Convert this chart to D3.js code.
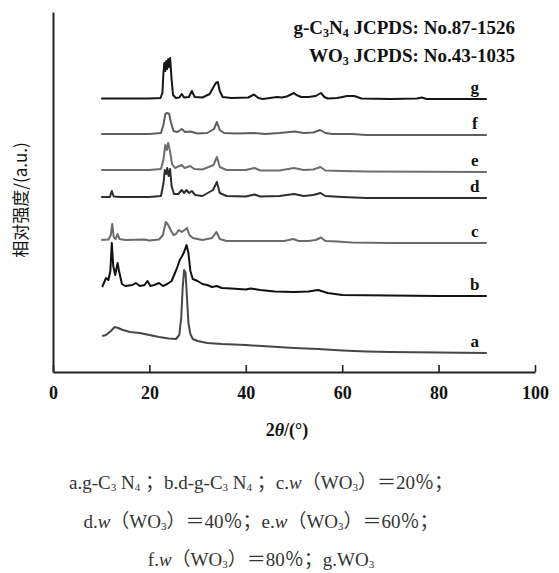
<!DOCTYPE html>
<html>
<head>
<meta charset="utf-8">
<script src="https://cdn.jsdelivr.net/npm/d3@7"></script>
<style>
  body { margin: 0; background: #fff; }
  text { font-family: "Liberation Serif", "DejaVu Serif", serif; }
</style>
</head>
<body>
<div id="chart"></div>
<script>
// XRD patterns, [2theta, intensity above own baseline]
const seriesNames = ['a', 'b', 'c', 'd', 'e', 'f', 'g'];
const seriesOffsets = [19, 76, 129, 174, 200, 237, 273];
const seriesColors = ['#464646', '#111111', '#6a6a6a', '#2e2e2e', '#6e6e6e', '#5e5e5e', '#161616'];

const patternA = [[10.2,17],[11,18],[12,22],[12.8,26],[13.5,25],[14.5,23],[16,21],[18,20],[20,18],[22,16],[24,14.5],
  [25.5,14],[26.2,18],[26.6,35],[26.9,65],[27.2,83],[27.5,80],[27.8,55],[28.1,30],[28.5,19],[29,14],[30,12],[32,10],
  [35,9],[40,8],[45,6.5],[50,5],[55,4],[60,2.5],[65,1.5],[70,1],[80,0.5],[90,0]];
const patternB = [[10.2,9],[11,18],[11.5,16],[11.9,25],[12.2,53],[12.5,30],[12.9,21],[13.4,33],[13.7,25],[14.3,12],
  [15,10],[16.5,11],[17.2,13],[18,10],[19,11],[19.6,15],[20.2,10],[21,11],[22,13],[22.8,10],[23.7,12],[24.6,15],
  [25.3,23],[25.8,29],[26.3,36],[26.8,40],[27.2,44],[27.7,51],[28.1,43],[28.5,25],[29,17],[30,15],[31,12],[32,11],
  [33,9],[34,10],[35,8],[37,7.5],[40,6.5],[41,7.5],[43,6],[46,4.5],[50,4],[53,4.5],[55,6],[57,3],[60,1],[70,0.5],
  [80,0],[90,0]];
const patternC = [[10,3],[11.5,3.5],[12.0,8],[12.3,19],[12.6,6],[13.0,4],[13.4,9],[13.8,4],[15,3],[19,3.5],[20,2.5],
  [22,3.5],[22.8,8],[23.4,21],[23.9,18],[24.5,12],[25,8],[25.5,9],[26.1,13],[26.7,11],[27.3,13],[27.8,15],[28.3,8],
  [29,5],[31,3],[33,5],[33.9,11],[34.6,4],[36,2],[40,2],[45,2],[48,2],[49.8,4],[51,2],[53,2],[54.5,3],[55.6,5.5],
  [56.5,2],[59,1.5],[62,0.5],[70,0],[90,0]];
const patternD = [[10,1],[11.8,1],[12.2,7],[12.6,1.5],[14,1],[20,1],[22.4,2],[22.9,14],[23.2,28],[23.5,24],[23.7,30],
  [24.0,22],[24.3,29],[24.6,12],[25.1,4],[26,4],[26.7,8],[27.2,5],[27.7,8],[28.2,5],[28.8,7],[29.5,3],[31,2],
  [33.2,8],[34.0,16],[34.6,5],[36,2],[40,1.5],[41.8,3.5],[43,1.5],[47,2],[50,4],[52,2],[54,3],[55.5,5],[56.5,2],
  [60,1],[65,0],[90,0]];
const patternE = [[10,2],[20,2],[22.4,3],[22.9,12],[23.3,27],[23.6,22],[23.9,29],[24.3,20],[24.7,8],[25.3,4],
  [26.7,7],[27.3,4],[28.5,6],[29.3,3],[31,2.5],[33.3,7],[34.0,15],[34.6,5],[36,2],[40,2],[41.8,4],[43,1.5],[47,1.5],
  [50,4],[52,2],[54,2.5],[55.5,5],[56.5,1.5],[60,1],[65,0.5],[90,0]];
const patternF = [[10,1],[20,1],[22.4,2],[22.9,10],[23.3,21],[23.7,22],[24.1,21],[24.5,12],[25.0,4],[25.8,3],
  [26.7,6],[27.4,3],[28.5,3.5],[30,1.5],[32,2],[33.4,6],[34.0,13],[34.6,5],[35.5,2],[38,1.5],[41.7,2],[44,1],
  [47,2],[50.2,3.5],[52,2],[54,2.5],[55.4,5],[56.5,2],[58,1],[62,1],[65,0],[90,0]];
const patternG = [[10,0.5],[20,0.5],[22.3,1],[22.7,6],[22.9,25],[23.1,36],[23.3,28],[23.5,38],[23.7,30],[23.9,40],
  [24.1,32],[24.3,41],[24.6,20],[24.9,4],[25.5,1],[26.2,1.5],[26.7,5],[27.2,1.5],[28.2,2],[28.8,8],[29.4,2],
  [31,1.5],[32.5,5],[33.3,12],[33.8,16],[34.2,17],[34.6,8],[35.2,2],[37,1],[40.5,1.5],[41.7,4.5],[42.6,1],
  [43.5,0],[45,1],[46.5,2],[47.5,1.5],[48.5,2.5],[50.0,6],[50.5,4],[51.5,2],[53,2],[54.5,3],[55.6,6],[56.3,2],
  [57,0.5],[59,1],[61,3],[62.5,3],[64,0.5],[70,0],[75.5,0.5],[76.5,1.5],[77.5,0],[90,0]];
const patterns = [patternA, patternB, patternC, patternD, patternE, patternF, patternG];

const xTicks = [0, 20, 40, 60, 80, 100];
const labelAt = 87.5;

const width = 559, height = 573;
const margin = { top: 12, right: 24, bottom: 201, left: 53 };

const svg = d3.select('#chart').append('svg')
    .attr('width', width)
    .attr('height', height);

const x = d3.scaleLinear()
    .domain([0, 100])
    .range([margin.left, width - margin.right]);

const y = d3.scaleLinear()
    .domain([0, 360])
    .range([height - margin.bottom, margin.top]);

const line = d3.line()
    .x(d => x(d[0]))
    .y(d => y(d[1]));

// traces
patterns.forEach((p, i) => {
    const off = seriesOffsets[i];
    svg.append('path')
        .datum(p.map(d => [d[0], d[1] + off]))
        .attr('fill', 'none')
        .attr('stroke', seriesColors[i])
        .attr('stroke-width', 2)
        .attr('stroke-linejoin', 'round')
        .attr('d', line);

    svg.append('text')
        .attr('x', x(labelAt))
        .attr('y', y(off) - 6)
        .attr('text-anchor', 'middle')
        .attr('font-size', 17)
        .attr('font-weight', 'bold')
        .attr('fill', '#111')
        .text(seriesNames[i]);
});

// axes
const xAxis = d3.axisBottom(x)
    .tickValues(xTicks)
    .tickSizeInner(-7)
    .tickSizeOuter(0)
    .tickPadding(14);

const gx = svg.append('g')
    .attr('transform', `translate(0,${y(0)})`)
    .call(xAxis);
gx.select('.domain').attr('stroke', '#222').attr('stroke-width', 2);
gx.selectAll('.tick line').attr('stroke', '#222').attr('stroke-width', 1.6);
gx.selectAll('.tick text')
    .attr('font-size', 18)
    .attr('font-weight', 'bold')
    .attr('fill', '#111');

const gy = svg.append('g')
    .attr('transform', `translate(${x(0)},0)`)
    .call(d3.axisLeft(y).tickValues([]).tickSizeOuter(0));
gy.select('.domain').attr('stroke', '#222').attr('stroke-width', 2);

// axis titles
const xt = svg.append('text')
    .attr('x', 287)
    .attr('y', 436)
    .attr('text-anchor', 'middle')
    .attr('font-size', 18)
    .attr('font-weight', 'bold')
    .attr('fill', '#111');
xt.append('tspan').text('2');
xt.append('tspan').attr('font-style', 'italic').text('θ');
xt.append('tspan').text('/(°)');

svg.append('text')
    .attr('transform', 'translate(27,200) rotate(-90)')
    .attr('text-anchor', 'middle')
    .attr('font-size', 17)
    .attr('fill', '#111')
    .style('font-family', '"Noto Sans CJK SC", sans-serif')
    .text('相对强度/(a.u.)');

// reference note
const notes = [
    [['g-C', ''], ['3', 'sub'], ['N', ''], ['4', 'sub'], [' JCPDS: No.87-1526', '']],
    [['WO', ''], ['3', 'sub'], [' JCPDS: No.43-1035', '']]
];
notes.forEach((parts, i) => {
    const t = svg.append('text')
        .attr('x', 515)
        .attr('y', 34 + i * 28)
        .attr('text-anchor', 'end')
        .attr('font-size', 19)
        .attr('font-weight', 'bold')
        .attr('fill', '#111');
    let sub = false;
    parts.forEach(([s, k]) => {
        const ts = t.append('tspan').text(s);
        if (k === 'sub') { ts.attr('font-size', 12).attr('dy', sub ? 0 : 3); sub = true; }
        else if (sub) { ts.attr('dy', -3); sub = false; }
    });
});

// caption
const caption = [
    [['a.g-C', ''], ['3', 's'], [' N', ''], ['4', 's'], [' ；b.d-g-C', ''], ['3', 's'], [' N', ''], ['4', 's'], [' ；c.', ''], ['w', 'i'], ['（WO', ''], ['3', 's'], ['）＝20％；', '']],
    [['d.', ''], ['w', 'i'], ['（WO', ''], ['3', 's'], ['）＝40％；e.', ''], ['w', 'i'], ['（WO', ''], ['3', 's'], ['）＝60％；', '']],
    [['f.', ''], ['w', 'i'], ['（WO', ''], ['3', 's'], ['）＝80％；g.WO', ''], ['3', 's']]
];
caption.forEach((parts, i) => {
    const t = svg.append('text')
        .attr('x', 261)
        .attr('y', 489 + i * 38.5)
        .attr('text-anchor', 'middle')
        .attr('font-size', 19)
        .attr('fill', '#333')
        .style('font-family', '"Liberation Serif", "Noto Sans CJK SC", serif');
    let sub = false;
    parts.forEach(([s, k]) => {
        const ts = t.append('tspan').text(s);
        if (k === 's') { ts.attr('font-size', 11).attr('dy', 2); sub = true; }
        else {
            if (sub) { ts.attr('dy', -2); sub = false; }
            if (k === 'i') ts.attr('font-style', 'italic');
        }
    });
});
</script>
</body>
</html>
